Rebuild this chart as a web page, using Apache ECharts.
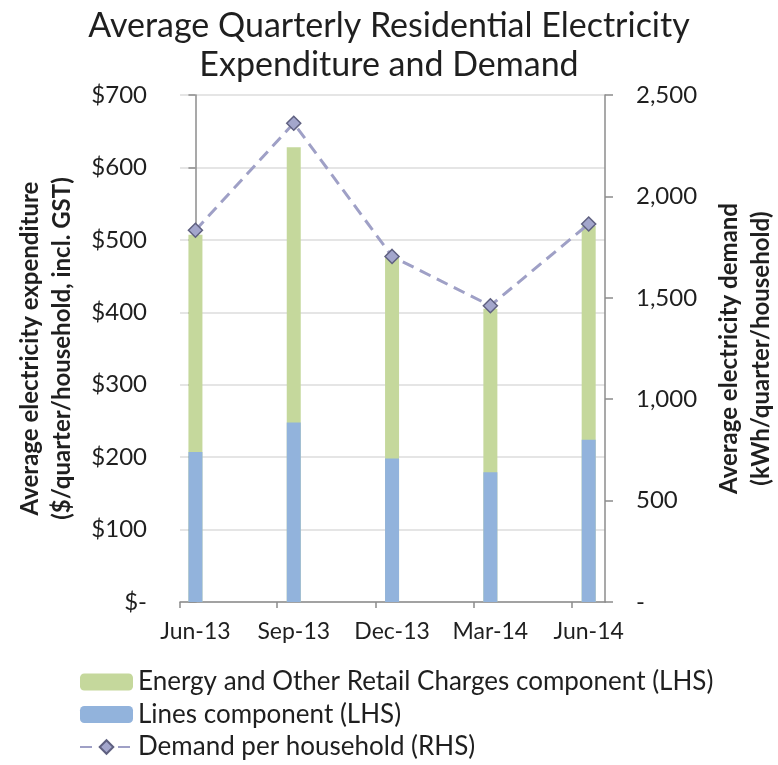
<!DOCTYPE html>
<html>
<head>
<meta charset="utf-8">
<title>Average Quarterly Residential Electricity Expenditure and Demand</title>
<script src="https://cdn.jsdelivr.net/npm/echarts@6/dist/echarts.min.js"></script>
<style>
  html, body { margin: 0; padding: 0; background: #ffffff; }
  #chart { width: 778px; height: 765px; }
</style>
</head>
<body>
<div id="chart"></div>
<script>
// Quarter labels
const quarters = ['Jun-13', 'Sep-13', 'Dec-13', 'Mar-14', 'Jun-14'];
// Lines component, $/quarter/household incl. GST
const linesComponent = [207, 248, 198, 179, 224];
// Energy and other retail charges component, $/quarter/household incl. GST
const energyComponent = [300, 380, 278, 226, 295];
// Demand per household, kWh/quarter/household
const demand = [1833, 2361, 1704, 1461, 1864];
// Axis tick values
const leftTicks = [0, 100, 200, 300, 400, 500, 600, 700];
const rightTicks = [0, 500, 1000, 1500, 2000, 2500];

const FONT = 'Lato';
const TEXT = '#1f1f1f';
const AXIS_GRAY = '#8c8c8c';

// quarter tick marks sit a little ahead of each quarter's bar
const xMin = -0.157, xMax = 4.166;
const tickPositions = [xMin].concat(quarters.slice(1).map((q, i) => i + 0.83));

// The energy segment sits on top of the lines segment, so its bar runs up to the quarter's total
const totalSpend = linesComponent.map((v, i) => v + energyComponent[i]);

function dollars(v) { return v === 0 ? '$-' : '$' + v; }
function kwh(v) { return v === 0 ? '-' : v.toLocaleString('en-US'); }

const chart = echarts.init(document.getElementById('chart'), null, { renderer: 'canvas' });

chart.setOption({
  backgroundColor: '#ffffff',
  animation: false,
  textStyle: { fontFamily: FONT, color: TEXT },
  title: {
    text: 'Average Quarterly Residential Electricity\nExpenditure and Demand',
    left: 'center',
    top: 2,
    textStyle: { fontFamily: FONT, fontSize: 34, fontWeight: 'normal', color: TEXT, lineHeight: 39 }
  },
  grid: { left: 180, right: 173, top: 95, bottom: 163, containLabel: false, outerBoundsMode: 'none' },
  legend: {
    orient: 'vertical',
    left: 79,
    top: 669,
    padding: 0,
    itemWidth: 53,
    itemHeight: 17,
    itemGap: 6.5,
    textStyle: { fontFamily: FONT, fontSize: 26, color: TEXT, lineHeight: 26 },
    data: [
      'Energy and Other Retail Charges component (LHS)',
      'Lines component (LHS)',
      'Demand per household (RHS)'
    ]
  },
  xAxis: {
    type: 'value',
    min: xMin,
    max: xMax,
    axisLine: { show: true, lineStyle: { color: AXIS_GRAY, width: 1.5 } },
    axisTick: { show: true, customValues: tickPositions, length: 6, lineStyle: { color: AXIS_GRAY, width: 1.5 } },
    axisLabel: {
      customValues: quarters.map((q, i) => i),
      formatter: v => quarters[Math.round(v)],
      fontFamily: FONT, fontSize: 23, color: TEXT, margin: 18
    },
    splitLine: { show: false }
  },
  yAxis: [
    {
      type: 'value',
      min: 0,
      max: 700,
      interval: 100,
      position: 'left',
      name: 'Average electricity expenditure\n($/quarter/household, incl. GST)',
      nameLocation: 'middle',
      nameRotate: 90,
      nameGap: 102,
      nameTextStyle: { fontFamily: FONT, fontSize: 24, fontWeight: 'bold', color: TEXT, lineHeight: 32 },
      axisLine: { show: true, lineStyle: { color: AXIS_GRAY, width: 1.5 } },
      axisTick: { show: true, length: 7, lineStyle: { color: AXIS_GRAY, width: 1.5 } },
      axisLabel: { formatter: dollars, fontFamily: FONT, fontSize: 24, color: TEXT, margin: 33 },
      splitLine: { show: true, lineStyle: { color: '#dcdcdc', width: 1.5 } }
    },
    {
      type: 'value',
      min: 0,
      max: 2500,
      interval: 500,
      position: 'right',
      name: 'Average electricity demand\n(kWh/quarter/household)',
      nameLocation: 'middle',
      nameRotate: 90,
      nameGap: 108,
      nameTextStyle: { fontFamily: FONT, fontSize: 24, fontWeight: 'bold', color: TEXT, lineHeight: 32 },
      axisLine: { show: true, lineStyle: { color: AXIS_GRAY, width: 1.5 } },
      axisTick: { show: true, length: 8, lineStyle: { color: AXIS_GRAY, width: 1.5 } },
      axisLabel: { formatter: kwh, fontFamily: FONT, fontSize: 24, color: TEXT, margin: 31 },
      splitLine: { show: false }
    }
  ],
  series: [
    {
      name: 'Energy and Other Retail Charges component (LHS)',
      type: 'bar',
      barWidth: 14,
      barGap: '-100%',
      itemStyle: { color: '#c5d89c' },
      data: totalSpend.map((v, i) => [i, v])
    },
    {
      name: 'Lines component (LHS)',
      type: 'bar',
      barWidth: 14,
      barGap: '-100%',
      itemStyle: { color: '#92b3dc' },
      data: linesComponent.map((v, i) => [i, v])
    },
    {
      name: 'Demand per household (RHS)',
      type: 'line',
      yAxisIndex: 1,
      symbol: 'diamond',
      symbolSize: 14,
      lineStyle: { color: '#9fa0c6', width: 3, type: [12, 7] },
      itemStyle: { color: '#a3a6cc', borderColor: '#5f6080', borderWidth: 1.5 },
      data: demand.map((v, i) => [i, v]),
      z: 5
    }
  ]
});
</script>
</body>
</html>
